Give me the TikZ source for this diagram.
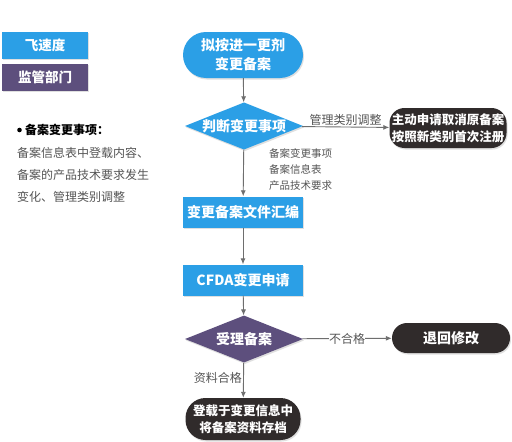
\documentclass[tikz,border=0pt]{standalone}
\usepackage{fontspec}
\setmainfont{Noto Sans CJK SC}
\usetikzlibrary{shapes.geometric,arrows.meta,shadows,positioning}

\definecolor{azul}{HTML}{2B9FE6}
\definecolor{morado}{HTML}{5D4F7D}
\definecolor{oscuro}{HTML}{302B2B}
\definecolor{flecha}{HTML}{6E6E6E}
\definecolor{gris}{HTML}{555555}

\tikzset{
  sombra/.style={drop shadow={opacity=0.25,shadow xshift=1pt,shadow yshift=-1.5pt}},
  paso/.style={rectangle, fill=azul, text=white, font=\fontsize{14}{16}\selectfont\bfseries,
    minimum width=120pt, minimum height=31pt, inner sep=0pt, sombra},
  pildora/.style={rectangle, rounded corners=#1, text=white, align=center,
    font=\fontsize{12.5}{17}\selectfont\bfseries, inner sep=0pt, sombra},
  decision/.style={diamond, shape aspect=2.5, text=white, font=\fontsize{14}{16}\selectfont\bfseries,
    minimum width=118pt, minimum height=47pt, inner sep=0pt, sombra},
  leyenda/.style={rectangle, text=white, font=\fontsize{13.5}{16}\selectfont\bfseries,
    minimum width=86pt, minimum height=27pt, inner sep=0pt, sombra},
  nota/.style={text=gris, font=\fontsize{12}{14}\selectfont, inner sep=0pt},
  conector/.style={draw=flecha, line width=0.9pt, -{Latex[length=6pt,width=5pt]}},
}

\begin{document}
\begin{tikzpicture}[x=1pt,y=-1pt]
  \useasboundingbox[fill=white] (0,0) rectangle (512,442);

  % Leyenda
  \node[leyenda, fill=azul] (ley1) at (45,45) {飞速度};
  \node[leyenda, fill=morado] (ley2) at (45,77) {监管部门};

  % Notas a la izquierda
  \fill (19.5,130) circle (2.3);
  \node[anchor=west, font=\fontsize{12}{14}\selectfont\bfseries, inner sep=0pt] (titulo) at (25,130) {备案变更事项：};
  \node[nota, anchor=west] (linea1) at (17,153) {备案信息表中登载内容、};
  \node[nota, anchor=west] (linea2) at (17,175) {备案的产品技术要求发生};
  \node[nota, anchor=west] (linea3) at (17,197) {变化、管理类别调整};

  % Flujo principal
  \node[pildora=23pt, fill=azul, font=\fontsize{14}{19}\selectfont\bfseries,
    minimum width=120pt, minimum height=46pt] (inicio) at (243,55) {拟按进一更剂\\变更备案};
  \node[decision, fill=azul] (juicio) at (244,126) {判断变更事项};
  \node[pildora=15pt, fill=oscuro, minimum width=117pt, minimum height=40pt] (cancelar) at (448,128)
    {主动申请取消原备案\\按照新类别首次注册};
  \node[paso] (archivo) at (243,212) {变更备案文件汇编};
  \node[paso] (cfda) at (243,280) {CFDA变更申请};
  \node[decision, fill=morado] (acepta) at (244,339) {受理备案};
  \node[pildora=15pt, fill=oscuro, minimum width=118pt, minimum height=30pt,
    font=\fontsize{14}{16}\selectfont\bfseries] (volver) at (451,338) {退回修改};
  \node[pildora=20pt, fill=oscuro, minimum width=115pt, minimum height=42pt] (registro) at (243,419)
    {登载于变更信息中\\将备案资料存档};

  % Conectores
  \draw[conector] (inicio) -- (juicio);
  \draw[conector] (juicio) -- node[above=1pt, nota] (etq1) {管理类别调整} (cancelar);
  \draw[conector] (juicio) -- (archivo);
  \node[nota, anchor=west, align=left, font=\fontsize{10.5}{16}\selectfont] (etq2) at (269,169)
    {备案变更事项\\备案信息表\\产品技术要求};
  \draw[conector] (archivo) -- (cfda);
  \draw[conector] (cfda) -- (acepta);
  \draw[conector] (acepta) -- node[fill=white, inner xsep=4pt, inner ysep=1pt, nota] (etq3) {不合格} (volver);
  \draw[conector] (acepta) -- (registro);
  \node[nota, anchor=east] (etq4) at (242,378) {资料合格};
\end{tikzpicture}
\end{document}
